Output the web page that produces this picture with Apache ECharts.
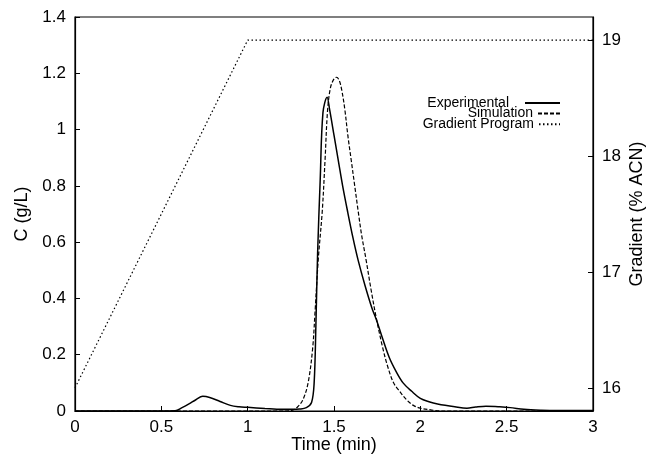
<!DOCTYPE html>
<html>
<head>
<meta charset="utf-8">
<script src="https://cdn.jsdelivr.net/npm/echarts@6/dist/echarts.min.js"></script>
<style>html,body{margin:0;padding:0;background:#fff}#c{width:648px;height:456px}</style>
</head>
<body>
<div id="c"></div>
<script>
// ---- data ----
var expTime = [0, 0.5, 0.58, 0.62, 0.66, 0.70, 0.74, 0.78, 0.84, 0.90, 0.95, 1.00, 1.10, 1.20, 1.26, 1.30, 1.34, 1.37, 1.385, 1.395, 1.405, 1.42, 1.436, 1.46, 1.475, 1.50, 1.525, 1.55, 1.58, 1.61, 1.64, 1.68, 1.72, 1.745, 1.78, 1.82, 1.86, 1.90, 1.95, 2.00, 2.05, 2.10, 2.20, 2.27, 2.32, 2.38, 2.45, 2.52, 2.60, 2.70, 2.80, 3.00];
var expC = [0, 0, 0.001, 0.012, 0.025, 0.040, 0.052, 0.048, 0.034, 0.020, 0.015, 0.013, 0.009, 0.006, 0.006, 0.007, 0.012, 0.03, 0.10, 0.30, 0.56, 0.82, 1.06, 1.115, 1.07, 0.98, 0.89, 0.80, 0.705, 0.615, 0.535, 0.445, 0.365, 0.325, 0.26, 0.19, 0.14, 0.10, 0.07, 0.045, 0.033, 0.025, 0.015, 0.010, 0.014, 0.017, 0.015, 0.012, 0.006, 0.003, 0.002, 0.002];
var simTime = [0, 1.22, 1.26, 1.29, 1.32, 1.35, 1.376, 1.39, 1.409, 1.432, 1.448, 1.463, 1.48, 1.50, 1.515, 1.53, 1.545, 1.563, 1.58, 1.60, 1.62, 1.64, 1.66, 1.685, 1.715, 1.745, 1.78, 1.81, 1.845, 1.88, 1.92, 1.96, 2.00, 2.06, 2.12, 3.00];
var simC = [0, 0, 0.003, 0.015, 0.04, 0.10, 0.22, 0.35, 0.54, 0.71, 0.89, 1.07, 1.15, 1.18, 1.186, 1.175, 1.14, 1.07, 0.98, 0.89, 0.80, 0.71, 0.625, 0.54, 0.43, 0.33, 0.23, 0.16, 0.10, 0.07, 0.04, 0.02, 0.01, 0.004, 0, 0];
var gradTime = [0, 1, 3];
var gradPct = [16, 19, 19];
var xTicks = [0, 0.5, 1, 1.5, 2, 2.5, 3];
var cTicks = [0, 0.2, 0.4, 0.6, 0.8, 1, 1.2, 1.4];
var gTicks = [16, 17, 18, 19];

function pairs(a, b) { return a.map(function (v, i) { return [v, b[i]]; }); }

var FONT = 'Liberation Sans, Arial, Helvetica, sans-serif';
var chart = echarts.init(document.getElementById('c'), null, {renderer: 'canvas'});

function legendFor(name, top, pad, w) {
  return {
    show: true, data: [name], right: 87, top: top, orient: 'vertical', align: 'right',
    padding: 0, itemWidth: w, itemHeight: 10,
    itemStyle: {opacity: 0, borderWidth: 0},
    textStyle: {fontFamily: FONT, fontSize: 14, lineHeight: 14, color: '#000', padding: [0, pad, 0, 0]},
    selectedMode: false
  };
}

var option = {
  animation: false,
  backgroundColor: '#fff',
  grid: {left: 75, right: 55, top: 17, bottom: 45, show: true, borderColor: '#000', borderWidth: 1.2, backgroundColor: 'transparent', containLabel: false, outerBoundsMode: 'none'},
  legend: [
    legendFor('Experimental', 96, 11, 35),
    legendFor('Simulation', 106.5, 0, 22),
    legendFor('Gradient Program', 117.2, 0, 21)
  ],
  xAxis: {
    type: 'value', min: xTicks[0], max: xTicks[xTicks.length - 1], interval: 0.5,
    name: 'Time (min)', nameLocation: 'middle', nameGap: 25, nameMoveOverlap: false,
    nameTextStyle: {fontFamily: FONT, fontSize: 18, color: '#000'},
    axisLine: {show: true, lineStyle: {color: '#000', width: 1.2}},
    axisTick: {show: true, inside: true, length: 5, lineStyle: {color: '#000'}},
    axisLabel: {fontFamily: FONT, fontSize: 17, color: '#000', margin: 8},
    splitLine: {show: false}
  },
  yAxis: [
    {
      type: 'value', min: cTicks[0], max: cTicks[cTicks.length - 1], interval: 0.2, position: 'left',
      name: 'C (g/L)', nameLocation: 'middle', nameGap: 44, nameRotate: 90, nameMoveOverlap: false,
      nameTextStyle: {fontFamily: FONT, fontSize: 18, color: '#000'},
      axisLine: {show: true, lineStyle: {color: '#000', width: 1.2}},
      axisTick: {show: true, inside: true, length: 5, lineStyle: {color: '#000'}},
      axisLabel: {fontFamily: FONT, fontSize: 17, color: '#000', margin: 9},
      splitLine: {show: false}
    },
    {
      type: 'value', min: 15.8, max: 19.2, splitNumber: 4, position: 'right',
      name: 'Gradient (% ACN)', nameLocation: 'middle', nameGap: 35, nameRotate: 90, nameMoveOverlap: false,
      nameTextStyle: {fontFamily: FONT, fontSize: 18, color: '#000'},
      axisLine: {show: true, lineStyle: {color: '#000', width: 1.2}},
      axisTick: {show: true, inside: true, length: 5, lineStyle: {color: '#000'}},
      axisLabel: {fontFamily: FONT, fontSize: 17, color: '#000', margin: 9, showMinLabel: false, showMaxLabel: false,
        formatter: function (v) { return gTicks.indexOf(Math.round(v * 1000) / 1000) >= 0 ? String(v) : ''; }},
      splitLine: {show: false}
    }
  ],
  series: [
    {
      name: 'Experimental', type: 'line', yAxisIndex: 0, data: pairs(expTime, expC),
      showSymbol: false, symbol: 'none', smooth: 0.35,
      lineStyle: {color: '#000', width: 1.5, type: 'solid'}, itemStyle: {color: '#000'}
    },
    {
      name: 'Simulation', type: 'line', yAxisIndex: 0, data: pairs(simTime, simC),
      showSymbol: false, symbol: 'none', smooth: 0.35,
      lineStyle: {color: '#000', width: 1.2, type: [4, 2]}, itemStyle: {color: '#000'}
    },
    {
      name: 'Gradient Program', type: 'line', yAxisIndex: 1, data: pairs(gradTime, gradPct),
      showSymbol: false, symbol: 'none',
      lineStyle: {color: '#000', width: 1.2, type: [1.5, 2.5]}, itemStyle: {color: '#000'}
    }
  ]
};
chart.setOption(option);
</script>
</body>
</html>
